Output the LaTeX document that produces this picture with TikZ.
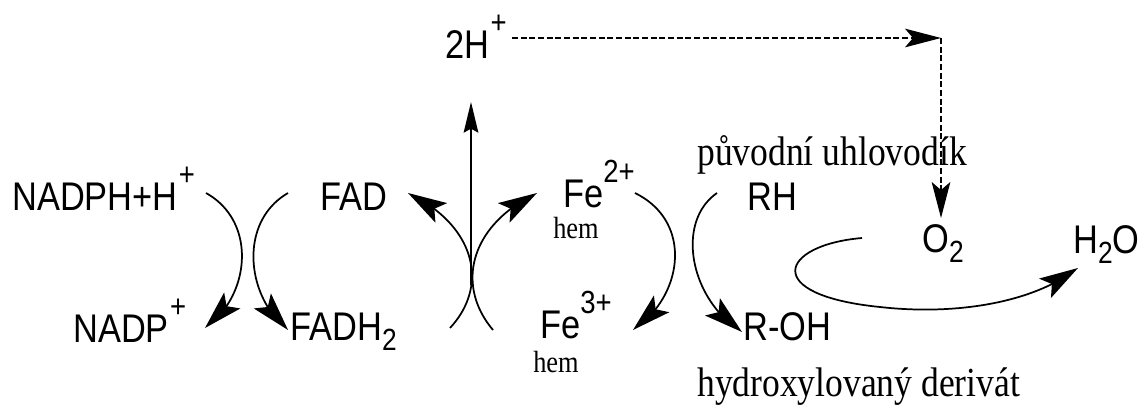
\documentclass[tikz,border=0pt]{standalone}
\usepackage{fontspec}
\usetikzlibrary{arrows.meta,bending}
\newfontfamily\arialf[FakeStretch=0.86]{Liberation Sans}
\newfontfamily\timesf[FakeStretch=0.86]{Liberation Serif}
\newcommand\myup[1]{\raisebox{18.75pt}{\fontsize{24}{24}\selectfont #1}}
\newcommand\mydn[1]{\raisebox{-8pt}{\fontsize{23}{23}\selectfont #1}}
\begin{document}
\begin{tikzpicture}[x=0.75pt,y=-0.75pt,
 lbl/.style={inner sep=0pt, anchor=base west, font=\arialf\fontsize{30}{30}\selectfont},
 ser/.style={inner sep=0pt, anchor=base west, font=\timesf\fontsize{31}{31}\selectfont},
 hemlbl/.style={inner sep=0pt, anchor=base west, font=\timesf\fontsize{23}{23}\selectfont},
 curve/.style={line width=1.3pt, -{Stealth[length=29pt,width=17pt,inset=6pt]}},
 uparrow/.style={line width=1.3pt, -{Stealth[length=23pt,width=11pt,inset=3pt]}},
 dsh/.style={line width=0.9pt, dash pattern=on 4.5pt off 2pt, -{Stealth[length=27pt,width=14pt,inset=6pt]}}
]
\useasboundingbox (0,0) rectangle (1145,407);

% labels
\node[lbl] (nadph) at (12,210) {NADPH+H\kern1pt\myup{+}};
\node[lbl] (nadp) at (73,342) {NADP\kern1pt\myup{+}};
\node[lbl] (fad) at (320,210) {FAD};
\node[lbl] (fadh) at (290,340) {FADH\mydn{2}};
\node[lbl] (fe2) at (563,207) {Fe\myup{2+}};
\node[hemlbl] (hem1) at (553,238) {hem};
\node[lbl] (fe3) at (540,338) {Fe\myup{3+}};
\node[hemlbl] (hem2) at (533,372) {hem};
\node[lbl] (rh) at (747,210) {RH};
\node[lbl] (roh) at (743,340) {R-OH};
\node[lbl] (o2) at (922,252) {O\mydn{2}};
\node[lbl] (h2o) at (1073,253) {H\mydn{2}O};
\node[lbl] (twoh) at (445,58) {2H\kern1pt\myup{+}};
\node[ser] (puv) at (697,165) {původní uhlovodík};
\node[ser] (hyd) at (697,396) {hydroxylovaný derivát};

% coordinates
\coordinate (dstart) at (512,38);
\coordinate (corner) at (941,38);
\coordinate (o2top) at (941,218);
\coordinate (vbot) at (471,285);
\coordinate (vtop) at (471,102);
\coordinate (a1s) at (206,193); \coordinate (a1e) at (205,328);
\coordinate (a2s) at (288,193); \coordinate (a2e) at (288,330);
\coordinate (a3s) at (635,193); \coordinate (a3e) at (633,330);
\coordinate (a4s) at (717,193); \coordinate (a4e) at (742,332);
\coordinate (x1s) at (450,328); \coordinate (x1e) at (408,193);
\coordinate (x2s) at (493,330); \coordinate (x2e) at (537,193);
\coordinate (ls) at (862,238); \coordinate (lm) at (880,307); \coordinate (le) at (1078,268);

% dashed arrows
\draw[dsh] (dstart) -- (corner);
\draw[dsh] (corner) -- (o2top);

% vertical arrow
\draw[uparrow] (vbot) -- (vtop);

% curved arrows
\draw[curve] (a1s) .. controls (258,222) and (250,297) .. (a1e);
\draw[curve] (a2s) .. controls (238,222) and (246,297) .. (a2e);
\draw[curve] (a3s) .. controls (694,222) and (683,297) .. (a3e);
\draw[curve] (a4s) .. controls (675,222) and (690,300) .. (a4e);
\draw[curve] (x1s) .. controls (490,285) and (475,225) .. (x1e);
\draw[curve] (x2s) .. controls (455,285) and (470,225) .. (x2e);
\draw[curve] (ls) .. controls (780,245) and (760,295) .. (lm)
   .. controls (950,315) and (1030,305) .. (le);
\end{tikzpicture}
\end{document}
